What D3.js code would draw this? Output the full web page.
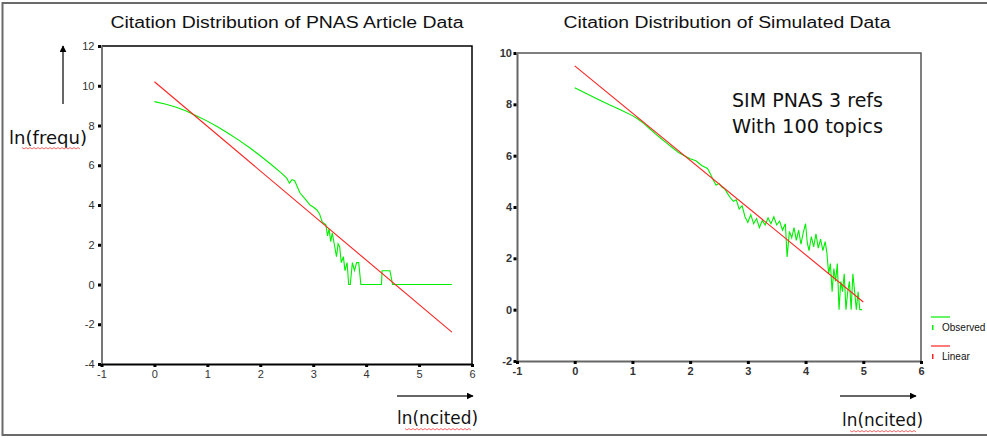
<!DOCTYPE html>
<html>
<head>
<meta charset="utf-8">
<script src="https://cdn.jsdelivr.net/npm/d3@7"></script>
<style>
  body { margin: 0; background: #fff; }
  svg { display: block; }
</style>
</head>
<body>
<div id="chart"></div>
<script>

// PNAS article data: observed ln(frequency) vs ln(ncited)
const pnasLnCited = [0.00, 0.20, 0.40, 0.60, 0.80, 1.00, 1.20, 1.40, 1.60, 1.80, 2.00, 2.20, 2.40, 2.50, 2.55, 2.60, 2.65, 2.75, 2.85, 2.94, 3.00, 3.07, 3.12, 3.17, 3.24, 3.27, 3.30, 3.33, 3.36, 3.40, 3.44, 3.47, 3.50, 3.53, 3.57, 3.60, 3.64, 3.67, 3.70, 3.74, 3.78, 3.82, 3.86, 3.90, 4.29, 4.30, 4.45, 4.50, 5.62];
const pnasLnFreq  = [9.20, 9.08, 8.93, 8.73, 8.48, 8.22, 7.92, 7.60, 7.25, 6.88, 6.48, 6.05, 5.60, 5.35, 5.10, 5.28, 5.22, 4.60, 4.30, 4.00, 3.90, 3.75, 3.55, 3.15, 3.00, 2.45, 2.80, 2.15, 2.60, 2.00, 1.40, 2.05, 1.90, 1.10, 1.40, 0.70, 1.10, 0.00, 0.00, 1.10, 0.70, 1.10, 1.10, 0.00, 0.00, 0.69, 0.69, 0.00, 0.00];
const pnasFitX = [0, 5.62];
const pnasFitY = [10.2, -2.4];

// simulated data (3 refs, 100 topics)
const simLnCited = [0.00, 0.20, 0.40, 0.60, 0.80, 1.00, 1.10, 1.20, 1.30, 1.40, 1.50, 1.60, 1.70, 1.80, 1.90, 2.00, 2.10, 2.20, 2.30, 2.35, 2.40, 2.45, 2.50, 2.55, 2.60, 2.65, 2.70, 2.75, 2.80, 2.85, 2.90, 2.95, 3.00, 3.05, 3.10, 3.15, 3.20, 3.25, 3.30, 3.35, 3.40, 3.45, 3.50, 3.55, 3.60, 3.65, 3.68, 3.72, 3.76, 3.80, 3.84, 3.88, 3.92, 3.96, 4.00, 4.03, 4.06, 4.10, 4.14, 4.18, 4.22, 4.26, 4.30, 4.34, 4.37, 4.40, 4.43, 4.46, 4.49, 4.52, 4.55, 4.58, 4.61, 4.64, 4.67, 4.70, 4.73, 4.76, 4.79, 4.82, 4.85, 4.88, 4.91, 4.94, 4.98];
const simLnFreq  = [8.65, 8.42, 8.20, 7.98, 7.78, 7.56, 7.42, 7.25, 7.05, 6.85, 6.66, 6.48, 6.30, 6.12, 6.00, 5.88, 5.80, 5.62, 5.50, 5.30, 5.05, 4.85, 4.92, 4.78, 4.70, 4.52, 4.35, 4.22, 4.28, 3.92, 4.05, 3.62, 3.40, 3.70, 3.35, 3.55, 3.20, 3.48, 3.30, 3.58, 3.35, 3.62, 3.30, 3.45, 3.10, 3.35, 2.05, 3.05, 2.80, 3.20, 2.70, 3.10, 2.55, 3.00, 3.35, 2.60, 2.30, 2.85, 2.45, 2.95, 2.40, 2.75, 2.30, 2.65, 2.20, 1.40, 1.80, 0.70, 1.60, 1.10, 1.80, 0.00, 1.10, 0.70, 1.40, 0.00, 0.70, 1.10, 0.00, 1.40, 0.70, 0.00, 0.70, 0.00, 0.00];
const simFitX = [0, 5.0];
const simFitY = [9.5, 0.3];

const xTicks = [-1, 0, 1, 2, 3, 4, 5, 6];
const pnasYTicks = [-4, -2, 0, 2, 4, 6, 8, 10, 12];
const simYTicks = [-2, 0, 2, 4, 6, 8, 10];

const titles = ["Citation Distribution of PNAS Article Data", "Citation Distribution of Simulated Data"];
const noteLines = ["SIM PNAS 3 refs", "With 100 topics"];
const legendLabels = ["Observed", "Linear"];

const W = 987, H = 438;
const obsColor = "#00ee00", fitColor = "#ff2222";
const plainNum = d => String(d);

const svg = d3.select("#chart").append("svg")
    .attr("width", W)
    .attr("height", H);

svg.append("rect").attr("width", W).attr("height", H).attr("fill", "#fff");

// outer frame (right edge falls outside the picture)
svg.append("rect")
    .attr("x", 2.5).attr("y", 3)
    .attr("width", W + 10).attr("height", 432)
    .attr("fill", "none")
    .attr("stroke", "#6a6a6a")
    .attr("stroke-width", 2);

const panels = [
    { x0: 101.5, x1: 472, y0: 46, y1: 364, yDomain: [-4, 12], yTicks: pnasYTicks,
      xs: pnasLnCited, ys: pnasLnFreq, fx: pnasFitX, fy: pnasFitY,
      title: titles[0], titleX: 287, titleW: 353, frame: "#000", axisCol: "#777",
      labelCol: "#333", labelWeight: "normal", labelGap: 7 },
    { x0: 517, x1: 921, y0: 53, y1: 361, yDomain: [-2, 10], yTicks: simYTicks,
      xs: simLnCited, ys: simLnFreq, fx: simFitX, fy: simFitY,
      title: titles[1], titleX: 727, titleW: 327, frame: "#555", axisCol: "#666",
      labelCol: "#333", labelWeight: "bold", labelGap: 5 }
];

panels.forEach(p => {
    const x = d3.scaleLinear().domain([-1, 6]).range([p.x0, p.x1]);
    const y = d3.scaleLinear().domain(p.yDomain).range([p.y1, p.y0]);
    const g = svg.append("g");

    g.append("text")
        .attr("x", p.titleX).attr("y", 28)
        .attr("text-anchor", "middle")
        .attr("font-family", "Liberation Sans, Arial, sans-serif")
        .attr("font-size", 16)
        .attr("fill", "#111")
        .attr("textLength", p.titleW)
        .attr("lengthAdjust", "spacingAndGlyphs")
        .text(p.title);

    // frame: top and right
    g.append("path")
        .attr("d", `M${p.x0},${p.y0}H${p.x1}V${p.y1}`)
        .attr("fill", "none")
        .attr("stroke", p.frame)
        .attr("stroke-width", 1.5);

    // y axis
    const ya = g.append("g")
        .attr("transform", `translate(${p.x0},0)`)
        .call(d3.axisLeft(y).tickValues(p.yTicks).tickFormat(plainNum).tickSize(0).tickPadding(p.labelGap));
    ya.select(".domain").attr("stroke", p.axisCol).attr("stroke-width", 2);
    ya.selectAll(".tick").append("rect")
        .attr("x", -3.5).attr("y", -1.5).attr("width", 3).attr("height", 3).attr("fill", "#000");
    ya.selectAll("text")
        .attr("font-family", "Liberation Sans, Arial, sans-serif")
        .attr("font-size", 11)
        .attr("font-weight", p.labelWeight)
        .attr("fill", p.labelCol);

    // x axis
    const xa = g.append("g")
        .attr("transform", `translate(0,${p.y1})`)
        .call(d3.axisBottom(x).tickValues(xTicks).tickFormat(plainNum).tickSize(0).tickPadding(6));
    xa.select(".domain").attr("stroke", p.frame === "#000" ? "#000" : p.axisCol).attr("stroke-width", 1.8);
    xa.selectAll(".tick").append("rect")
        .attr("x", -1.5).attr("y", 0).attr("width", 3).attr("height", 3).attr("fill", "#000");
    xa.selectAll("text")
        .attr("font-family", "Liberation Sans, Arial, sans-serif")
        .attr("font-size", 11)
        .attr("font-weight", p.labelWeight)
        .attr("fill", p.labelCol);

    const line = d3.line().x(d => x(d[0])).y(d => y(d[1]));

    g.append("path")
        .datum(d3.zip(p.xs, p.ys))
        .attr("d", line)
        .attr("fill", "none")
        .attr("stroke", obsColor)
        .attr("stroke-width", 1.1);

    g.append("path")
        .datum(d3.zip(p.fx, p.fy))
        .attr("d", line)
        .attr("fill", "none")
        .attr("stroke", fitColor)
        .attr("stroke-width", 1.1);
});

// arrows and hand-written axis labels
const defs = svg.append("defs");
defs.append("marker")
    .attr("id", "head")
    .attr("viewBox", "0 0 10 10")
    .attr("refX", 9).attr("refY", 5)
    .attr("markerWidth", 7).attr("markerHeight", 7)
    .attr("markerUnits", "userSpaceOnUse")
    .attr("orient", "auto")
    .append("path").attr("d", "M0,0L10,5L0,10Z").attr("fill", "#000");

const arrows = [[63, 104, 63, 46], [397, 396, 473, 396], [840, 396, 916, 396]];
svg.selectAll(".arrow").data(arrows).enter().append("line")
    .attr("class", "arrow")
    .attr("x1", d => d[0]).attr("y1", d => d[1])
    .attr("x2", d => d[2]).attr("y2", d => d[3])
    .attr("stroke", "#333").attr("stroke-width", 1.5)
    .attr("marker-end", "url(#head)");

const handLabels = [
    { text: "ln(frequ)", x: 9, y: 144, w: 78, squiggle: [22, 80, 148] },
    { text: "ln(ncited)", x: 397, y: 424, w: 81, squiggle: [405, 472, 429] },
    { text: "ln(ncited)", x: 842, y: 426, w: 81, squiggle: [850, 917, 431] }
];
handLabels.forEach(l => {
    svg.append("text")
        .attr("x", l.x).attr("y", l.y)
        .attr("font-family", "DejaVu Sans, Verdana, sans-serif")
        .attr("font-size", 17)
        .attr("fill", "#111")
        .attr("textLength", l.w)
        .attr("lengthAdjust", "spacingAndGlyphs")
        .text(l.text);
    // spell-check wavy underline
    const pts = d3.range(l.squiggle[0], l.squiggle[1] + 0.1, 2)
        .map((px, i) => [px, l.squiggle[2] + (i % 2 ? 1 : -0.5)]);
    svg.append("path")
        .attr("d", d3.line()(pts))
        .attr("fill", "none")
        .attr("stroke", "#ff4040")
        .attr("stroke-width", 0.8);
});

// annotation in the simulated panel
svg.selectAll(".note").data(noteLines).enter().append("text")
    .attr("class", "note")
    .attr("x", 732)
    .attr("y", (d, i) => 107 + i * 26)
    .attr("font-family", "DejaVu Sans, Verdana, sans-serif")
    .attr("font-size", 19)
    .attr("fill", "#111")
    .attr("textLength", 151)
    .attr("lengthAdjust", "spacingAndGlyphs")
    .text(d => d);

// legend
const legend = svg.append("g").attr("transform", "translate(931,317)");
legendLabels.forEach((lab, i) => {
    const col = i === 0 ? obsColor : fitColor;
    const row = legend.append("g").attr("transform", `translate(0,${i * 29})`);
    row.append("line").attr("x1", 0).attr("x2", 19).attr("y1", 0).attr("y2", 0)
        .attr("stroke", col).attr("stroke-width", 1.2);
    row.append("rect").attr("x", 1).attr("y", 8).attr("width", 1.5).attr("height", 5).attr("fill", col);
    row.append("text")
        .attr("x", 11).attr("y", 14)
        .attr("font-family", "Liberation Sans, Arial, sans-serif")
        .attr("font-size", 10)
        .attr("fill", "#111")
        .text(lab);
});

</script>
</body>
</html>
